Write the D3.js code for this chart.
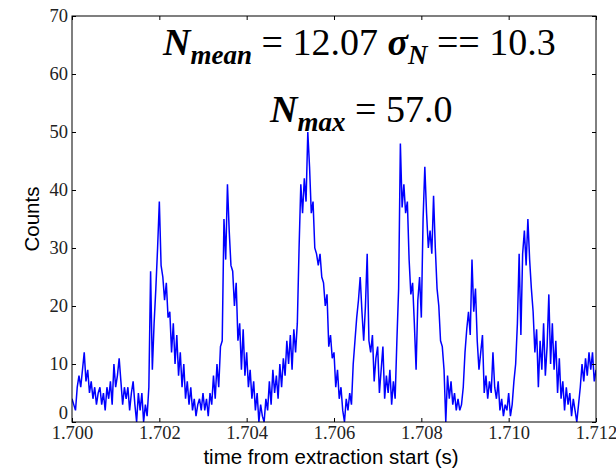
<!DOCTYPE html>
<html>
<head>
<meta charset="utf-8">
<script src="https://cdn.jsdelivr.net/npm/d3@7"></script>
<style>
  html, body { margin: 0; padding: 0; background: #fff; }
  svg { display: block; }
</style>
</head>
<body>
<svg id="chart" width="616" height="469"></svg>
<script>
// ---- data ----
const tStart = 1.700;
const tStep = 0.00004;
const counts = [
  4,3,2,6,8,6,9,12,7,9, 5,7,4,6,3,5,6,3,5,2,
  6,4,7,3,10,6,8,11,7,3, 6,4,6,2,5,7,3,0,5,2,
  5,0,3,1,6,26,9,17,23,30, 38,27,25,21,24,18,19,12,17,10,
  15,8,12,6,10,4,7,3,6,2, 4,1,3,4,2,5,2,4,1,5,
  3,8,4,10,6,13,14,35,28,41, 33,27,26,20,24,14,17,9,16,8,
  12,6,9,4,7,2,5,0,3,1, 0,4,2,7,3,9,5,8,4,10,
  6,11,8,14,10,15,9,16,12,17, 30,41,36,42,38,50,44,36,38,30,
  29,27,29,25,24,20,22,13,15,11, 12,6,9,4,6,2,0,4,2,5,
  3,10,14,18,21,25,19,14,20,29, 14,12,15,7,11,13,5,9,13,4,
  8,5,9,3,7,4,14,23,48,37, 41,36,38,28,22,24,17,9,21,25,
  18,35,44,36,30,33,29,39,30,23, 20,14,13,9,0,8,4,7,3,5,
  2,4,2,3,6,12,16,19,15,28, 19,23,14,9,12,15,5,8,4,7,
  5,12,6,4,7,2,4,1,3,2, 5,1,3,7,10,17,29,15,29,33,
  27,35,28,23,19,12,16,6,14,9, 17,8,13,22,10,17,9,14,5,11,
  4,7,2,6,3,5,1,4,2,0, 3,6,10,7,11,8,12,9,12,7,
  9
];
const xTicks = [1.700, 1.702, 1.704, 1.706, 1.708, 1.710, 1.712];
const yTicks = [0, 10, 20, 30, 40, 50, 60, 70];
const xDomain = [1.700, 1.712];
const yDomain = [0, 70];
const xLabel = "time from extraction start (s)";
const yLabel = "Counts";
const nMean = "12.07";
const sigmaN = "10.3";
const nMax = "57.0";

// ---- layout ----
const svg = d3.select("#chart");
const L = 72, R = 596, T = 16, B = 422;
const x = d3.scaleLinear().domain(xDomain).range([L, R]);
const y = d3.scaleLinear().domain(yDomain).range([B, T]);

const data = counts.map((c, i) => ({ t: tStart + i * tStep, c }));

// line
svg.append("defs").append("clipPath").attr("id", "clip")
  .append("rect").attr("x", L).attr("y", T - 1).attr("width", R - L).attr("height", B - T + 2);

svg.append("path")
  .datum(data)
  .attr("clip-path", "url(#clip)")
  .attr("fill", "none")
  .attr("stroke", "#0000ff")
  .attr("stroke-width", 1.5)
  .attr("stroke-linejoin", "miter")
  .attr("d", d3.line().x(d => x(d.t)).y(d => y(d.c)));

// axes (inward ticks on all sides)
const tickFont = "'Liberation Serif', 'Times New Roman', serif";
const gB = svg.append("g").attr("transform", `translate(0,${B})`)
  .call(d3.axisBottom(x).tickValues(xTicks).tickFormat(d3.format(".3f")).tickSizeInner(-4).tickSizeOuter(0).tickPadding(5));
const gT = svg.append("g").attr("transform", `translate(0,${T})`)
  .call(d3.axisTop(x).tickValues(xTicks).tickFormat("").tickSizeInner(-4).tickSizeOuter(0));
const gL = svg.append("g").attr("transform", `translate(${L},0)`)
  .call(d3.axisLeft(y).tickValues(yTicks).tickSizeInner(-4).tickSizeOuter(0).tickPadding(4));
const gR = svg.append("g").attr("transform", `translate(${R},0)`)
  .call(d3.axisRight(y).tickValues(yTicks).tickFormat("").tickSizeInner(-4).tickSizeOuter(0));

[gB, gT, gL, gR].forEach(g => {
  g.select(".domain").remove();
  g.selectAll(".tick line").attr("stroke", "#000").attr("stroke-width", 1);
  g.selectAll(".tick text").attr("font-family", tickFont).attr("font-size", 18.5).attr("fill", "#222");
});
// x tick labels: baseline ~17px below the axis
gB.selectAll(".tick text").attr("dy", null).attr("y", 17);
// lift the "0" label slightly so it sits above the first x label
gL.selectAll(".tick text").filter(d => d === 0).attr("dy", "-0.2em");

// frame
svg.append("rect").attr("x", L).attr("y", T).attr("width", R - L).attr("height", B - T)
  .attr("fill", "none").attr("stroke", "#000").attr("stroke-width", 1);

// axis labels
const sans = "'Liberation Sans', Arial, sans-serif";
svg.append("text").attr("x", 331).attr("y", 464)
  .attr("text-anchor", "middle").attr("font-family", sans).attr("font-size", 20.5).attr("fill", "#000")
  .text(xLabel);
svg.append("text").attr("transform", `translate(39,${(T + B) / 2}) rotate(-90)`)
  .attr("text-anchor", "middle").attr("font-family", sans).attr("font-size", 20.5).attr("fill", "#000")
  .text(yLabel);

// annotations
const serif = "'Liberation Serif', 'Times New Roman', serif";
const fs = 38, sub = 27;
const t1 = svg.append("text").attr("x", 163).attr("y", 55)
  .attr("font-family", serif).attr("font-size", fs).attr("fill", "#000");
t1.append("tspan").attr("font-weight", "bold").attr("font-style", "italic").text("N");
t1.append("tspan").attr("font-weight", "bold").attr("font-style", "italic").attr("font-size", sub).attr("dy", 9).text("mean");
t1.append("tspan").attr("dy", -9).text(" = " + nMean + " ");
t1.append("tspan").attr("font-weight", "bold").attr("font-style", "italic").text("σ");
t1.append("tspan").attr("font-weight", "bold").attr("font-style", "italic").attr("font-size", sub).attr("dy", 9).text("N");
t1.append("tspan").attr("dy", -9).text(" == " + sigmaN);

const t2 = svg.append("text").attr("x", 270).attr("y", 122)
  .attr("font-family", serif).attr("font-size", fs).attr("fill", "#000");
t2.append("tspan").attr("font-weight", "bold").attr("font-style", "italic").text("N");
t2.append("tspan").attr("font-weight", "bold").attr("font-style", "italic").attr("font-size", sub).attr("dy", 9).text("max");
t2.append("tspan").attr("dy", -9).text(" = " + nMax);
</script>
</body>
</html>
